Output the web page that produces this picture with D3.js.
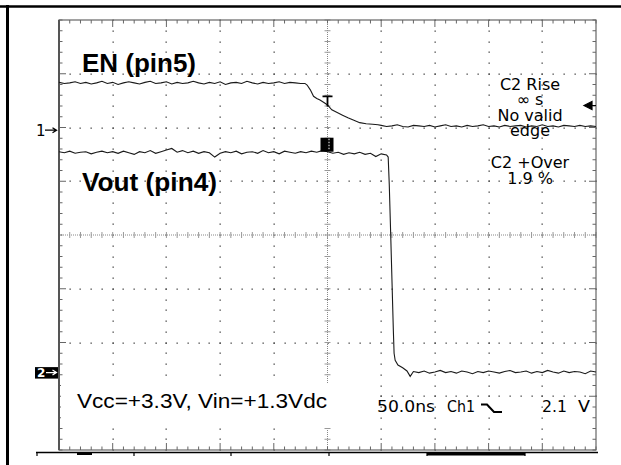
<!DOCTYPE html>
<html>
<head>
<meta charset="utf-8">
<script src="https://cdn.jsdelivr.net/npm/d3@7"></script>
<style>
  body { margin: 0; background: #fff; }
  svg { display: block; }
</style>
</head>
<body>
<svg id="chart" width="621" height="465"></svg>
<script>
// Scope settings: 50 ns/div horizontally, values in divisions vertically.
const timeDomain = [-250, 250];
const divDomain = [-4, 4];

// EN (pin5) trace, [time ns, divisions]
const enTrace = [
  [-250, 2.84], [-245, 2.82], [-240, 2.83], [-235, 2.85], [-230, 2.82], [-225, 2.84], [-220, 2.81], [-215, 2.83], [-210, 2.86], [-205, 2.82],
  [-200, 2.84], [-195, 2.80], [-190, 2.83], [-185, 2.85], [-180, 2.83], [-175, 2.81], [-170, 2.84], [-165, 2.86], [-160, 2.82], [-155, 2.83],
  [-150, 2.85], [-145, 2.81], [-140, 2.84], [-135, 2.82], [-130, 2.83], [-125, 2.86], [-120, 2.83], [-115, 2.81], [-110, 2.84], [-105, 2.82],
  [-100, 2.85], [-95, 2.80], [-90, 2.83], [-85, 2.84], [-80, 2.82], [-75, 2.86], [-70, 2.83], [-65, 2.81], [-60, 2.84], [-55, 2.82],
  [-50, 2.83], [-45, 2.85], [-40, 2.82], [-35, 2.84], [-30, 2.83], [-25, 2.82], [-21, 2.82],
  [-19, 2.79], [-16, 2.70], [-13, 2.58], [-10, 2.54], [-7, 2.51], [-3, 2.46], [0, 2.42], [4, 2.33], [9, 2.28],
  [14, 2.23], [19, 2.18], [24, 2.14], [30, 2.09], [36, 2.07], [42, 2.06], [47, 2.05],
  [50, 2.04], [55, 2.02], [60, 2.03], [65, 2.05], [70, 2.02], [75, 2.01], [80, 2.04], [85, 2.03], [90, 2.02], [95, 2.04],
  [100, 2.01], [105, 2.03], [110, 2.05], [115, 2.02], [120, 2.03], [125, 2.01], [130, 2.04], [135, 2.02], [140, 2.03], [145, 2.05],
  [150, 2.02], [155, 2.03], [160, 2.01], [165, 2.04], [170, 2.02], [175, 2.03], [180, 2.04], [185, 2.01], [190, 2.03], [195, 2.02],
  [200, 2.05], [205, 2.02], [210, 2.03], [215, 2.01], [220, 2.04], [225, 2.03], [230, 2.02], [235, 2.04], [240, 2.02], [245, 2.03], [250, 2.02]
];

// Vout (pin4) trace, [time ns, divisions]
const voutTrace = [
  [-250, 1.55], [-245, 1.53], [-240, 1.56], [-235, 1.52], [-230, 1.54], [-225, 1.55], [-220, 1.51], [-215, 1.54], [-210, 1.56], [-205, 1.53],
  [-200, 1.55], [-195, 1.52], [-190, 1.56], [-185, 1.53], [-180, 1.50], [-175, 1.55], [-170, 1.53], [-165, 1.57], [-160, 1.52], [-155, 1.55],
  [-150, 1.58], [-145, 1.61], [-140, 1.54], [-135, 1.57], [-130, 1.53], [-125, 1.56], [-120, 1.52], [-115, 1.55], [-110, 1.53], [-105, 1.45],
  [-100, 1.52], [-95, 1.55], [-90, 1.53], [-85, 1.56], [-80, 1.51], [-75, 1.54], [-70, 1.55], [-65, 1.52], [-60, 1.57], [-55, 1.53],
  [-50, 1.55], [-45, 1.51], [-40, 1.56], [-35, 1.54], [-30, 1.52], [-25, 1.55], [-20, 1.53], [-15, 1.56], [-10, 1.54], [-5, 1.57],
  [0, 1.55], [5, 1.52], [10, 1.54], [15, 1.50], [20, 1.53], [25, 1.51], [30, 1.54], [35, 1.50], [40, 1.52], [45, 1.46],
  [50, 1.51], [55, 1.49],
  [56.5, 1.45], [57.5, 0.95], [59, -0.10], [61.3, -1.77], [62, -2.20], [63, -2.33], [65.6, -2.42], [70, -2.47], [74, -2.53], [77, -2.63],
  [80, -2.54], [85, -2.56], [90, -2.53], [95, -2.57], [100, -2.55], [105, -2.52], [110, -2.56], [115, -2.54], [120, -2.57], [125, -2.53],
  [130, -2.55], [135, -2.58], [140, -2.54], [145, -2.56], [150, -2.53], [155, -2.55], [160, -2.57], [165, -2.54], [170, -2.52], [175, -2.56],
  [180, -2.55], [185, -2.53], [190, -2.57], [195, -2.54], [200, -2.56], [205, -2.52], [210, -2.55], [215, -2.57], [220, -2.53], [225, -2.56],
  [230, -2.54], [235, -2.55], [240, -2.58], [245, -2.53], [250, -2.55]
];

// Channel ground markers (divisions) and trigger point
const ch1Level = 1.95;
const ch2Level = -2.56;
const triggerTime = 0;
const triggerLevel = 2.56;

// Readout texts
const measureLines = ["C2 Rise", "\u221E s", "No valid", "edge", "C2 +Over", "1.9 %"];
const traceLabels = ["EN (pin5)", "Vout (pin4)"];
const noteText = "Vcc=+3.3V, Vin=+1.3Vdc";
const statusText = ["50.0ns", "Ch1", "2.1", "V"];

const svg = d3.select("#chart");
const frame = { left: 59, right: 596, top: 20, bottom: 450 };

const xScale = d3.scaleLinear().domain(timeDomain).range([frame.left, frame.right]);
const yScale = d3.scaleLinear().domain(divDomain).range([frame.bottom, frame.top]);

// Page border lines.
svg.append("line").attr("x1", 0).attr("x2", 621).attr("y1", 6.5).attr("y2", 6.5)
  .attr("stroke", "#000").attr("stroke-width", 2.5);
svg.append("line").attr("x1", 7.5).attr("x2", 7.5).attr("y1", 5).attr("y2", 465)
  .attr("stroke", "#000").attr("stroke-width", 3);

// Graticule.
const grid = svg.append("g").attr("class", "graticule");
const minorT = d3.range(-250, 251, 10);
const minorV = d3.range(-40, 41, 2).map((d) => d / 10);
const majorT = [-200, -150, -100, -50, 50, 100, 150, 200];
const majorV = [-3, -2, -1, 1, 2, 3];

const dots = [];
majorT.forEach((t) => minorV.forEach((v) => dots.push([t, v])));
majorV.forEach((v) => minorT.forEach((t) => dots.push([t, v])));

grid.selectAll(".dot")
  .data(dots)
  .enter()
  .append("rect")
  .attr("class", "dot")
  .attr("x", (d) => Math.round(xScale(d[0])) - 0.5)
  .attr("y", (d) => Math.round(yScale(d[1])) - 0.5)
  .attr("width", 1.3)
  .attr("height", 1.3)
  .attr("fill", "#444");

// Centre cross lines with minor ticks.
grid.append("line")
  .attr("x1", frame.left).attr("x2", frame.right)
  .attr("y1", yScale(0)).attr("y2", yScale(0))
  .attr("stroke", "#888").attr("stroke-dasharray", "1,1");
grid.append("line")
  .attr("x1", xScale(0)).attr("x2", xScale(0))
  .attr("y1", frame.top).attr("y2", frame.bottom)
  .attr("stroke", "#888").attr("stroke-dasharray", "1,1");

grid.selectAll(".cx-tick")
  .data(minorT)
  .enter()
  .append("line")
  .attr("x1", (d) => xScale(d)).attr("x2", (d) => xScale(d))
  .attr("y1", yScale(0) - 3).attr("y2", yScale(0) + 3)
  .attr("stroke", "#999");
grid.selectAll(".cy-tick")
  .data(minorV)
  .enter()
  .append("line")
  .attr("y1", (d) => yScale(d)).attr("y2", (d) => yScale(d))
  .attr("x1", xScale(0) - 3).attr("x2", xScale(0) + 3)
  .attr("stroke", "#999");

// Edge ticks.
const edge = grid.append("g").attr("stroke", "#666");
minorT.forEach((t) => {
  const len = majorT.includes(t) ? 7 : 3.5;
  edge.append("line").attr("x1", xScale(t)).attr("x2", xScale(t))
    .attr("y1", frame.top).attr("y2", frame.top + len);
  edge.append("line").attr("x1", xScale(t)).attr("x2", xScale(t))
    .attr("y1", frame.bottom).attr("y2", frame.bottom - len);
});
minorV.forEach((v) => {
  const len = majorV.includes(v) ? 7 : 3.5;
  edge.append("line").attr("y1", yScale(v)).attr("y2", yScale(v))
    .attr("x1", frame.left).attr("x2", frame.left + len);
  edge.append("line").attr("y1", yScale(v)).attr("y2", yScale(v))
    .attr("x1", frame.right).attr("x2", frame.right - len);
});

// Frame.
grid.append("rect")
  .attr("x", frame.left).attr("y", frame.top)
  .attr("width", frame.right - frame.left).attr("height", frame.bottom - frame.top)
  .attr("fill", "none").attr("stroke", "#666").attr("stroke-width", 1.2);
grid.append("line")
  .attr("x1", frame.left).attr("x2", frame.left)
  .attr("y1", frame.top).attr("y2", frame.bottom)
  .attr("stroke", "#555").attr("stroke-width", 2);

// White box behind the supply note.
svg.append("rect")
  .attr("x", 61).attr("y", 383).attr("width", 315).attr("height", 44)
  .attr("fill", "#fff");

// Bottom bar below the screen.
const bar = svg.append("g").attr("fill", "#000").attr("stroke", "#000");
bar.append("line").attr("x1", 36).attr("x2", 598).attr("y1", 452.5).attr("y2", 452.5).attr("stroke-width", 1.5);
[37, 134, 231, 329, 427, 525].forEach((x) => {
  bar.append("line").attr("x1", x).attr("x2", x).attr("y1", 452).attr("y2", 456).attr("stroke-width", 1.2);
});
bar.append("rect").attr("x", 77).attr("y", 452).attr("width", 15).attr("height", 3).attr("stroke", "none");
bar.append("rect").attr("x", 427).attr("y", 453).attr("width", 98).attr("height", 2.5).attr("stroke", "none");

// Traces.
const lineGen = d3.line()
  .x((d) => xScale(d[0]))
  .y((d) => yScale(d[1]));

svg.append("path")
  .datum(enTrace)
  .attr("d", lineGen)
  .attr("fill", "none")
  .attr("stroke", "#1a1a1a")
  .attr("stroke-width", 1.1);

svg.append("path")
  .datum(voutTrace)
  .attr("d", lineGen)
  .attr("fill", "none")
  .attr("stroke", "#1a1a1a")
  .attr("stroke-width", 1.1);

// Trigger "T" marker.
const tx = xScale(triggerTime);
const ty = yScale(triggerLevel);
svg.append("path")
  .attr("d", `M${tx - 5},${ty - 1} H${tx + 5} M${tx},${ty - 1} V${ty + 9}`)
  .attr("fill", "none").attr("stroke", "#000").attr("stroke-width", 1.8);

// Trigger position marker on the Vout trace.
svg.append("rect")
  .attr("x", tx - 7).attr("y", yScale(1.81)).attr("width", 13).attr("height", 14)
  .attr("fill", "#000");
svg.append("line")
  .attr("x1", tx + 1.5).attr("x2", tx + 1.5)
  .attr("y1", yScale(1.81) + 1).attr("y2", yScale(1.81) + 13)
  .attr("stroke", "#fff").attr("stroke-dasharray", "1.5,1.5");

// Channel markers.
const c1y = yScale(ch1Level);
svg.append("text")
  .attr("x", 36).attr("y", c1y + 5.5)
  .attr("font-family", "DejaVu Sans").attr("font-size", 15)
  .text("1");
svg.append("path")
  .attr("d", `M45,${c1y} H56 M52.5,${c1y - 2.5} L56.5,${c1y} L52.5,${c1y + 2.5}`)
  .attr("fill", "none").attr("stroke", "#000").attr("stroke-width", 1.3);

const c2y = yScale(ch2Level);
svg.append("rect")
  .attr("x", 35).attr("y", c2y - 5.5).attr("width", 23).attr("height", 11.5)
  .attr("fill", "#000");
svg.append("text")
  .attr("x", 37).attr("y", c2y + 4.5)
  .attr("font-family", "DejaVu Sans").attr("font-size", 12).attr("font-weight", "bold")
  .attr("fill", "#fff")
  .text("2");
svg.append("path")
  .attr("d", `M46,${c2y} H56 M52.5,${c2y - 2.5} L56.5,${c2y} L52.5,${c2y + 2.5}`)
  .attr("fill", "none").attr("stroke", "#fff").attr("stroke-width", 1.2);

// Right-side level arrow.
svg.append("path")
  .attr("d", "M584,105.5 L592,101.5 L592,109.5 Z M591,105.5 H596")
  .attr("fill", "#000").attr("stroke", "#000").attr("stroke-width", 1.2);

// Trace labels.
const labelFont = "'Liberation Sans', Arial, Helvetica, sans-serif";
svg.append("text")
  .attr("x", 82).attr("y", 71.5)
  .attr("font-family", labelFont).attr("font-size", 25).attr("font-weight", "bold")
  .attr("textLength", 114).attr("lengthAdjust", "spacingAndGlyphs")
  .text(traceLabels[0]);
svg.append("text")
  .attr("x", 82).attr("y", 190.5)
  .attr("font-family", labelFont).attr("font-size", 25).attr("font-weight", "bold")
  .attr("textLength", 135).attr("lengthAdjust", "spacingAndGlyphs")
  .text(traceLabels[1]);

svg.append("text")
  .attr("x", 77).attr("y", 408)
  .attr("font-family", labelFont).attr("font-size", 19.5)
  .attr("textLength", 250).attr("lengthAdjust", "spacingAndGlyphs")
  .text(noteText);

// Measurement readout.
const readoutY = [90, 105, 121, 135.5, 168.3, 184];
svg.append("g")
  .selectAll("text")
  .data(measureLines)
  .enter()
  .append("text")
  .attr("x", 530)
  .attr("y", (d, i) => readoutY[i])
  .attr("text-anchor", "middle")
  .attr("font-family", "'DejaVu Sans', sans-serif")
  .attr("font-size", 16)
  .text((d) => d);

// Status line.
const statusX = [377, 447, 542, 578];
const statusW = [58, 28, 25, 12];
svg.append("g")
  .selectAll("text")
  .data(statusText)
  .enter()
  .append("text")
  .attr("x", (d, i) => statusX[i])
  .attr("y", 411.7)
  .attr("font-family", "'DejaVu Sans', sans-serif")
  .attr("font-size", 16)
  .attr("textLength", (d, i) => statusW[i])
  .attr("lengthAdjust", "spacingAndGlyphs")
  .text((d) => d);

// Falling-edge trigger slope symbol.
svg.append("path")
  .attr("d", "M481,404.5 H487 L494,412 H502")
  .attr("fill", "none").attr("stroke", "#000").attr("stroke-width", 2);
</script>
</body>
</html>
